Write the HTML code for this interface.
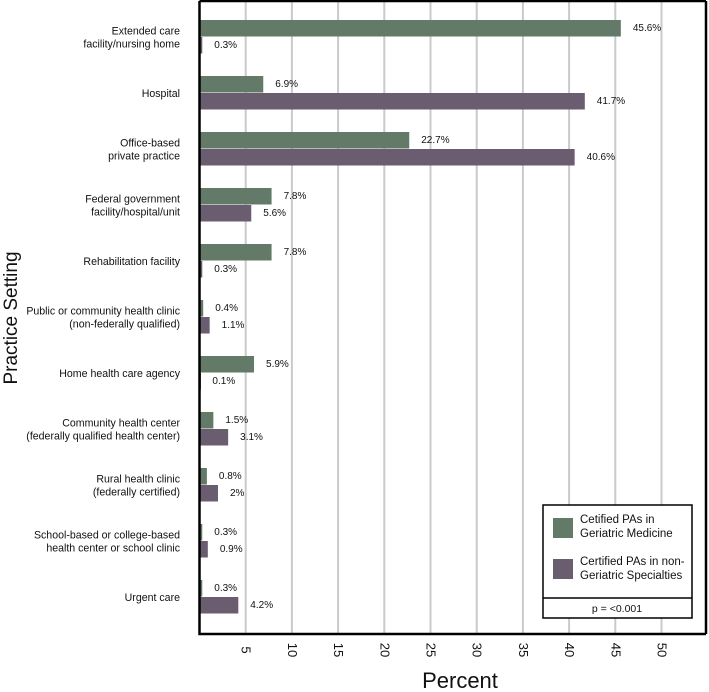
<!DOCTYPE html>
<html><head><meta charset="utf-8"><style>
body{margin:0;background:#fff;position:relative;width:709px;height:692px;overflow:hidden}
svg{display:block;font-family:"Liberation Sans",sans-serif;}
</style></head><body>
<svg id="chart" width="709" height="692"></svg>
<script>
const categories=[["Extended care","facility/nursing home"],["Hospital"],["Office-based","private practice"],["Federal government","facility/hospital/unit"],["Rehabilitation facility"],["Public or community health clinic","(non-federally qualified)"],["Home health care agency"],["Community health center","(federally qualified health center)"],["Rural health clinic","(federally certified)"],["School-based or college-based","health center or school clinic"],["Urgent care"]];
const geriatric=[45.6,6.9,22.7,7.8,7.8,0.4,5.9,1.5,0.8,0.3,0.3];
const nonGeriatric=[0.3,41.7,40.6,5.6,0.3,1.1,0.1,3.1,2,0.9,4.2];
const geriatricLabels=["45.6%","6.9%","22.7%","7.8%","7.8%","0.4%","5.9%","1.5%","0.8%","0.3%","0.3%"];
const nonGeriatricLabels=["0.3%","41.7%","40.6%","5.6%","0.3%","1.1%","0.1%","3.1%","2%","0.9%","4.2%"];
const ticks=[5,10,15,20,25,30,35,40,45,50];

const NS="http://www.w3.org/2000/svg";
const svg=document.getElementById('chart');
const X0=199.5,UNIT=9.24,TOP=1,BOTTOM=634,RIGHT=706;
const x=v=>X0+v*UNIT;
const yG=i=>20+i*56;
function mk(tag,attrs,parent){const e=document.createElementNS(NS,tag);for(const k in attrs)e.setAttribute(k,attrs[k]);(parent||svg).appendChild(e);return e;}

ticks.forEach(t=>{
  const g=mk('line',{x1:x(t),x2:x(t),y1:TOP,y2:BOTTOM,stroke:'#c8cbca','stroke-width':2});
  
  
  const tl=mk('text',{x:0,y:0,transform:`translate(${x(t)-4},${650}) rotate(90)`,'font-size':13,'text-anchor':'middle',fill:'#111'});
  tl.textContent=t;
  
  
});

categories.forEach((c,i)=>{
  const gb=mk('rect',{x:X0,y:yG(i),width:Math.max(geriatric[i]*UNIT,1.5),height:16.5,fill:'#637a68'});
  
  
  const pb=mk('rect',{x:X0,y:yG(i)+17,width:Math.max(nonGeriatric[i]*UNIT,1.5),height:16.5,fill:'#6a5d70'});
  
  
  const gl=mk('text',{x:x(geriatric[i])+12,y:yG(i)+11,'font-size':10,fill:'#111'});
  gl.textContent=geriatricLabels[i];
  
  
  const pl=mk('text',{x:x(nonGeriatric[i])+12,y:yG(i)+28,'font-size':10,fill:'#111'});
  pl.textContent=nonGeriatricLabels[i];
  
  
  const cy=yG(i)+17;
  const n=c.length;
  c.forEach((line,j)=>{
    const t=mk('text',{x:180,y:cy+4+(j-(n-1)/2)*13,'font-size':10.6,'text-anchor':'end',fill:'#111'});
    t.textContent=line;
    
    
  });
});

const frame=mk('path',{d:`M${X0},${TOP} H${RIGHT} M${X0},${TOP} V${BOTTOM} H${RIGHT}`,stroke:'#000','stroke-width':2.5,fill:'none'});


const rf=mk('line',{x1:RIGHT,x2:RIGHT,y1:TOP,y2:BOTTOM,stroke:'#000','stroke-width':2.5});


</script>
<svg width="709" height="692" style="position:absolute;left:0;top:0">
  <g font-family="Liberation Sans, sans-serif" font-size="11.5" fill="#111">
    <rect x="543" y="505" width="149" height="113" fill="#fff" stroke="#000" stroke-width="1.5"/>
    <line x1="543" x2="692" y1="598" y2="598" stroke="#000" stroke-width="1.5"/>
    <rect x="553" y="518" width="20" height="20" fill="#637a68"/>
    <text x="580" y="523">Cetified PAs in</text>
    <text x="580" y="537">Geriatric Medicine</text>
    <rect x="553" y="559" width="20" height="20" fill="#6a5d70"/>
    <text x="580" y="565">Certified PAs in non-</text>
    <text x="580" y="579">Geriatric Specialties</text>
    <text x="617" y="612" text-anchor="middle" font-size="10.5">p = &lt;0.001</text>
  </g>
  <text x="460" y="688" text-anchor="middle" font-family="Liberation Sans, sans-serif" font-size="22" fill="#111">Percent</text>
  <text transform="translate(17,318) rotate(-90)" text-anchor="middle" font-family="Liberation Sans, sans-serif" font-size="19" fill="#111">Practice Setting</text>
</svg>
</body></html>
